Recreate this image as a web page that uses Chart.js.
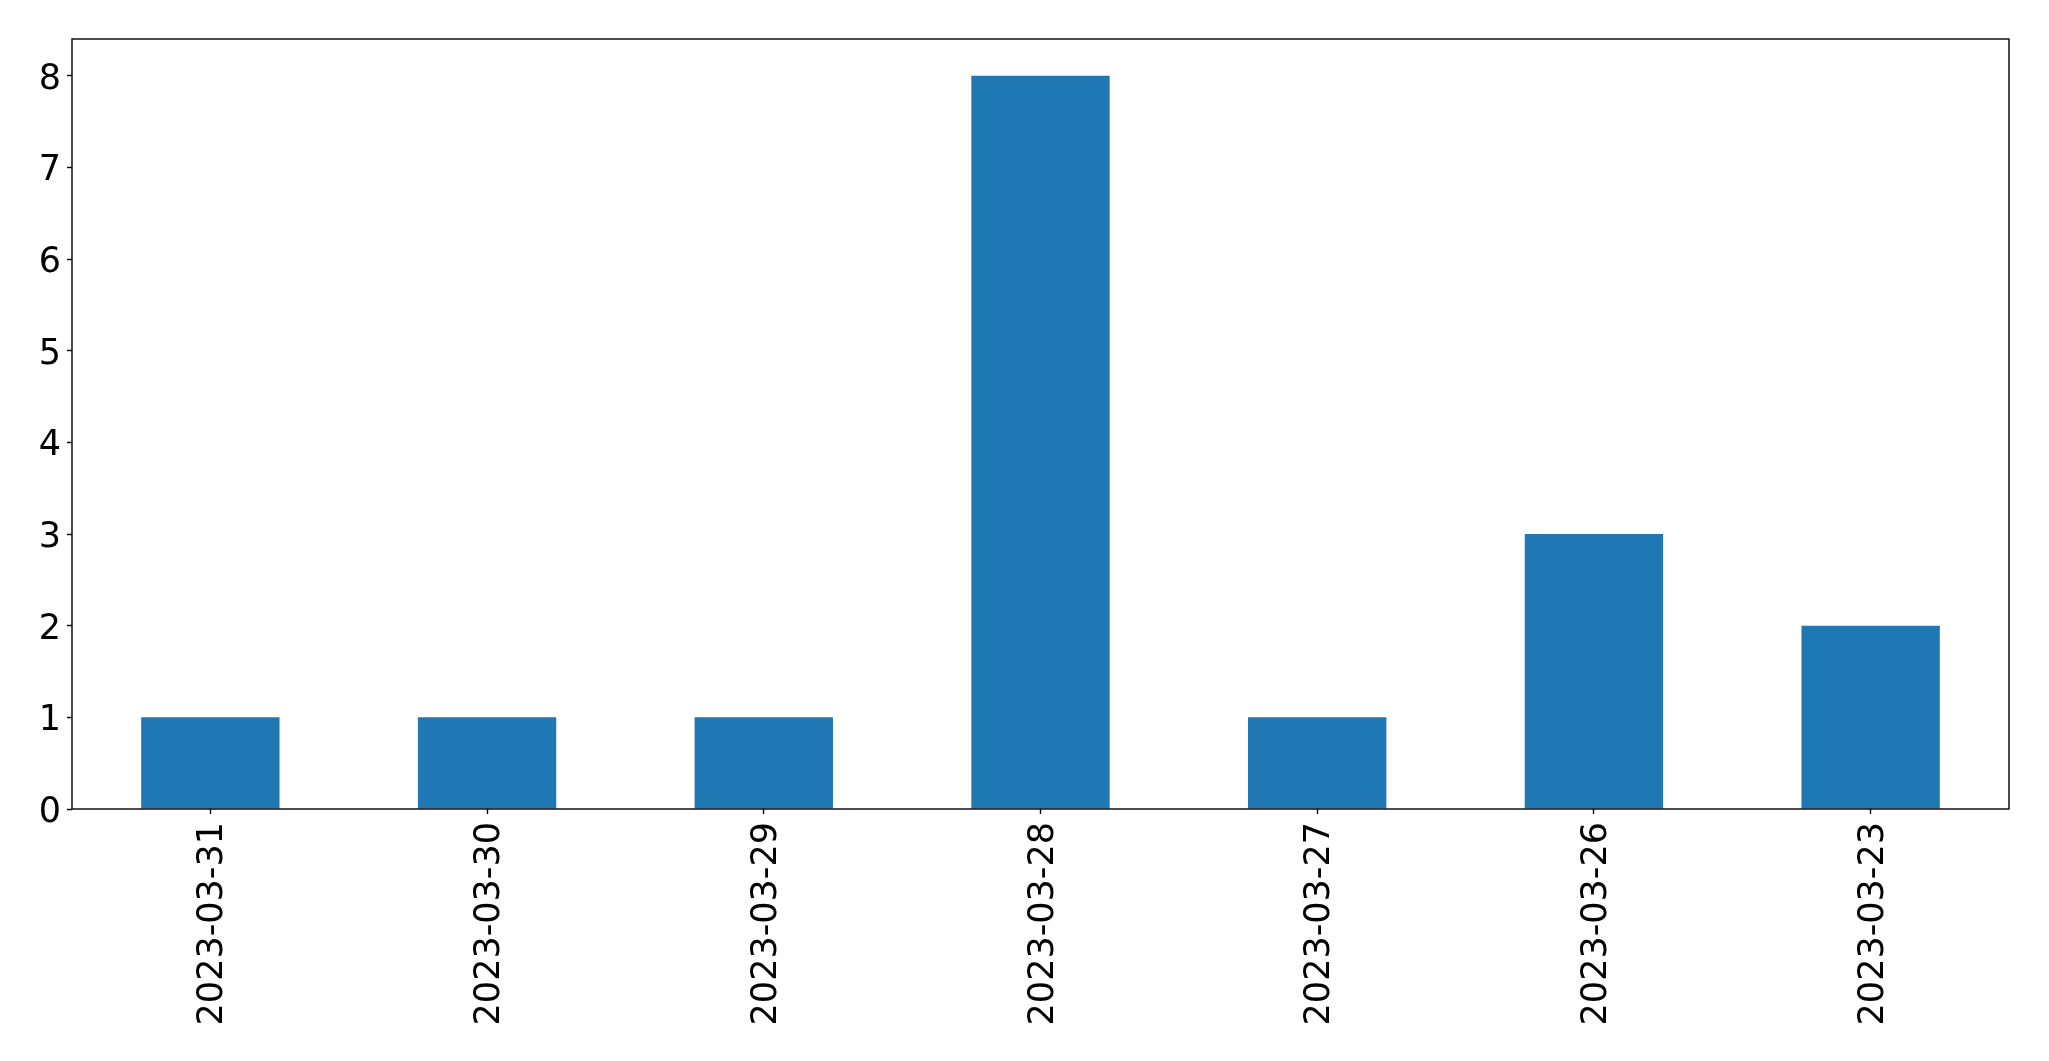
<!DOCTYPE html>
<html>
<head>
<meta charset="utf-8">
<script src="https://cdn.jsdelivr.net/npm/chart.js@4"></script>
<style>
  html, body { margin: 0; padding: 0; background: #fff; }
  #wrap { width: 2049px; height: 1061px; }
</style>
</head>
<body>
<div id="wrap"><canvas id="chart" width="2049" height="1061"></canvas></div>
<script>
const dates = ["2023-03-31", "2023-03-30", "2023-03-29", "2023-03-28", "2023-03-27", "2023-03-26", "2023-03-23"];
const counts = [1, 1, 1, 8, 1, 3, 2];
const yTicks = [0, 1, 2, 3, 4, 5, 6, 7, 8];

const tickFont = { family: "DejaVu Sans", size: 35 };

// black frame round the plot area, like matplotlib's spines
const framePlugin = {
  id: "frame",
  afterDraw(chart) {
    const { ctx, chartArea: a } = chart;
    ctx.save();
    ctx.strokeStyle = "#000";
    ctx.lineWidth = 1.4;
    ctx.strokeRect(a.left, a.top, a.right - a.left, a.bottom - a.top);
    ctx.restore();
  }
};

new Chart(document.getElementById("chart").getContext("2d"), {
  type: "bar",
  data: {
    labels: dates,
    datasets: [{
      data: counts,
      backgroundColor: "#1f77b4",
      borderWidth: 0,
      barPercentage: 0.5,
      categoryPercentage: 1.0
    }]
  },
  options: {
    responsive: false,
    animation: false,
    layout: { padding: { top: 39, right: 40, left: 0, bottom: 0 } },
    plugins: { legend: { display: false }, tooltip: { enabled: false } },
    scales: {
      x: {
        offset: true,
        grid: { offset: false, drawOnChartArea: false, drawTicks: true, tickLength: 5, tickColor: "#000", tickWidth: 1.4 },
        border: { display: false },
        ticks: { color: "#000", font: tickFont, minRotation: 90, maxRotation: 90, padding: 8, labelOffset: 3, autoSkip: false },
        afterFit(scale) { scale.height = 252; }
      },
      y: {
        min: 0,
        max: 8.4,
        grid: { drawOnChartArea: false, drawTicks: true, tickLength: 5, tickColor: "#000", tickWidth: 1.4 },
        border: { display: false },
        ticks: { color: "#000", font: tickFont, stepSize: 1, padding: 6, labelOffset: 4 },
        afterBuildTicks(scale) {
          scale.ticks = yTicks.map(v => ({ value: v }));
        },
        afterFit(scale) { scale.width = 72; }
      }
    }
  },
  plugins: [framePlugin]
});
</script>
</body>
</html>
